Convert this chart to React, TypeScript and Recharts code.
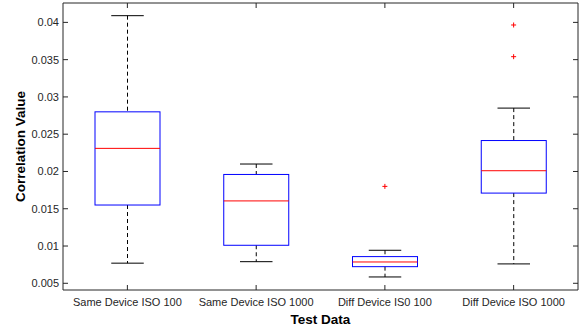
import React from "react";
import { ComposedChart, Bar, Line, XAxis, YAxis, ReferenceLine } from "recharts";

// box plot stats
const CATEGORIES = [
  "Same Device ISO 100",
  "Same Device ISO 1000",
  "Diff Device IS0 100",
  "Diff Device ISO 1000",
];
const WHISKER_LO = [0.0077, 0.0079, 0.00585, 0.0076];
const Q1 = [0.0155, 0.0101, 0.00723, 0.0171];
const MEDIAN = [0.0231, 0.01605, 0.00786, 0.0201];
const Q3 = [0.028, 0.0196, 0.00858, 0.02415];
const WHISKER_HI = [0.0409, 0.021, 0.00943, 0.0285];
const OUTLIERS: number[][] = [[], [], [0.018], [0.0354, 0.03965]];

const Y_TICKS = [0.005, 0.01, 0.015, 0.02, 0.025, 0.03, 0.035, 0.04];
const Y_DOMAIN: [number, number] = [0.0041, 0.0426];

const W = 581;
const H = 330;
const MARGIN = { top: 3, right: 3, left: 0, bottom: 0 };
const Y_AXIS_W = 63;
const X_AXIS_H = 40;
const PLOT_W = W - MARGIN.right - MARGIN.left - Y_AXIS_W;
const PLOT_H = H - MARGIN.top - MARGIN.bottom - X_AXIS_H;

const AXIS_COLOR = "#262626";
const FONT = "'Liberation Sans', Arial, Helvetica, sans-serif";

const data = CATEGORIES.map((name, i) => ({
  name,
  range: [WHISKER_LO[i], WHISKER_HI[i]],
  lo: WHISKER_LO[i],
  q1: Q1[i],
  med: MEDIAN[i],
  q3: Q3[i],
  hi: WHISKER_HI[i],
  out1: OUTLIERS[i][0] ?? null,
  out2: OUTLIERS[i][1] ?? null,
}));

function BoxShape(props: any) {
  const { x, y, width, height, payload } = props;
  if (!payload) return null;
  const top = Math.min(y, y + height);
  const h = Math.abs(height);
  const { lo, hi } = payload;
  const py = (v: number) => top + ((hi - v) / (hi - lo)) * h;
  const cx = x + width / 2;
  const cap = width / 4;
  const yq1 = py(payload.q1);
  const yq3 = py(payload.q3);
  const ymed = py(payload.med);
  const yhi = py(hi);
  const ylo = py(lo);
  return (
    <g>
      <line x1={cx} x2={cx} y1={yhi} y2={yq3} stroke="#000" strokeDasharray="4 3" />
      <line x1={cx} x2={cx} y1={yq1} y2={ylo} stroke="#000" strokeDasharray="4 3" />
      <line x1={cx - cap} x2={cx + cap} y1={yhi} y2={yhi} stroke="#000" />
      <line x1={cx - cap} x2={cx + cap} y1={ylo} y2={ylo} stroke="#000" />
      <rect x={x} y={yq3} width={width} height={yq1 - yq3} fill="none" stroke="#0000ff" />
      <line x1={x} x2={x + width} y1={ymed} y2={ymed} stroke="#ff0000" />
    </g>
  );
}

function PlusDot(props: any) {
  const { cx, cy, value, index } = props;
  if (value == null || cx == null || cy == null) return <g key={`p-${index}`} />;
  const a = 2.5;
  return (
    <g key={`p-${index}`}>
      <line x1={cx - a} x2={cx + a} y1={cy} y2={cy} stroke="#ff0000" />
      <line x1={cx} x2={cx} y1={cy - a} y2={cy + a} stroke="#ff0000" />
    </g>
  );
}

function YTick(props: any) {
  const { x, y, payload } = props;
  return (
    <g>
      <line x1={x} x2={x + 5} y1={y} y2={y} stroke={AXIS_COLOR} />
      <line x1={x + PLOT_W - 5} x2={x + PLOT_W} y1={y} y2={y} stroke={AXIS_COLOR} />
      <text
        x={x - 4}
        y={y}
        textAnchor="end"
        dominantBaseline="central"
        fill={AXIS_COLOR}
        style={{ fontSize: 11, fontFamily: FONT }}
      >
        {String(payload.value)}
      </text>
    </g>
  );
}

function XTick(props: any) {
  const { x, y, payload } = props;
  return (
    <g>
      <line x1={x} x2={x} y1={y} y2={y - 5} stroke={AXIS_COLOR} />
      <line x1={x} x2={x} y1={y - PLOT_H} y2={y - PLOT_H + 5} stroke={AXIS_COLOR} />
      <text
        x={x}
        y={y + 12}
        textAnchor="middle"
        dominantBaseline="central"
        fill={AXIS_COLOR}
        style={{ fontSize: 11, fontFamily: FONT }}
      >
        {payload.value}
      </text>
    </g>
  );
}

export default function App() {
  return (
    <div style={{ position: "absolute", left: 0, top: 0, width: W, height: H, background: "#fff" }}>
      <ComposedChart width={W} height={H} data={data} margin={MARGIN}>
        <XAxis
          dataKey="name"
          height={X_AXIS_H}
          interval={0}
          tickSize={0}
          tickMargin={0}
          tick={<XTick />}
          axisLine={{ stroke: AXIS_COLOR }}
          label={{
            content: (p: any) => {
              const vb = p.viewBox;
              return (
                <text
                  x={vb.x + vb.width / 2}
                  y={vb.y + 29}
                  textAnchor="middle"
                  dominantBaseline="central"
                  fill="#000"
                  style={{ fontSize: 13.5, fontWeight: "bold", fontFamily: FONT }}
                >
                  Test Data
                </text>
              );
            },
          }}
        />
        <YAxis
          type="number"
          width={Y_AXIS_W}
          domain={Y_DOMAIN}
          ticks={Y_TICKS}
          interval={0}
          allowDataOverflow
          tickSize={0}
          tickMargin={0}
          tick={<YTick />}
          axisLine={{ stroke: AXIS_COLOR }}
          label={{
            content: (p: any) => {
              const vb = p.viewBox;
              const cx = vb.x + 20;
              const cy = vb.y + vb.height / 2;
              return (
                <text
                  x={cx}
                  y={cy}
                  transform={`rotate(-90, ${cx}, ${cy})`}
                  textAnchor="middle"
                  dominantBaseline="central"
                  fill="#000"
                  style={{ fontSize: 13.5, fontWeight: "bold", fontFamily: FONT }}
                >
                  Correlation Value
                </text>
              );
            },
          }}
        />
        <ReferenceLine y={Y_DOMAIN[1]} stroke={AXIS_COLOR} ifOverflow="extendDomain" />
        <ReferenceLine x={CATEGORIES[CATEGORIES.length - 1]} position="end" stroke={AXIS_COLOR} />
        <Bar dataKey="range" barSize={65} shape={<BoxShape />} isAnimationActive={false} />
        <Line
          dataKey="out1"
          stroke="none"
          dot={(p: any) => <PlusDot key={`a-${p.index}`} {...p} />}
          activeDot={false}
          isAnimationActive={false}
        />
        <Line
          dataKey="out2"
          stroke="none"
          dot={(p: any) => <PlusDot key={`b-${p.index}`} {...p} />}
          activeDot={false}
          isAnimationActive={false}
        />
      </ComposedChart>
    </div>
  );
}
